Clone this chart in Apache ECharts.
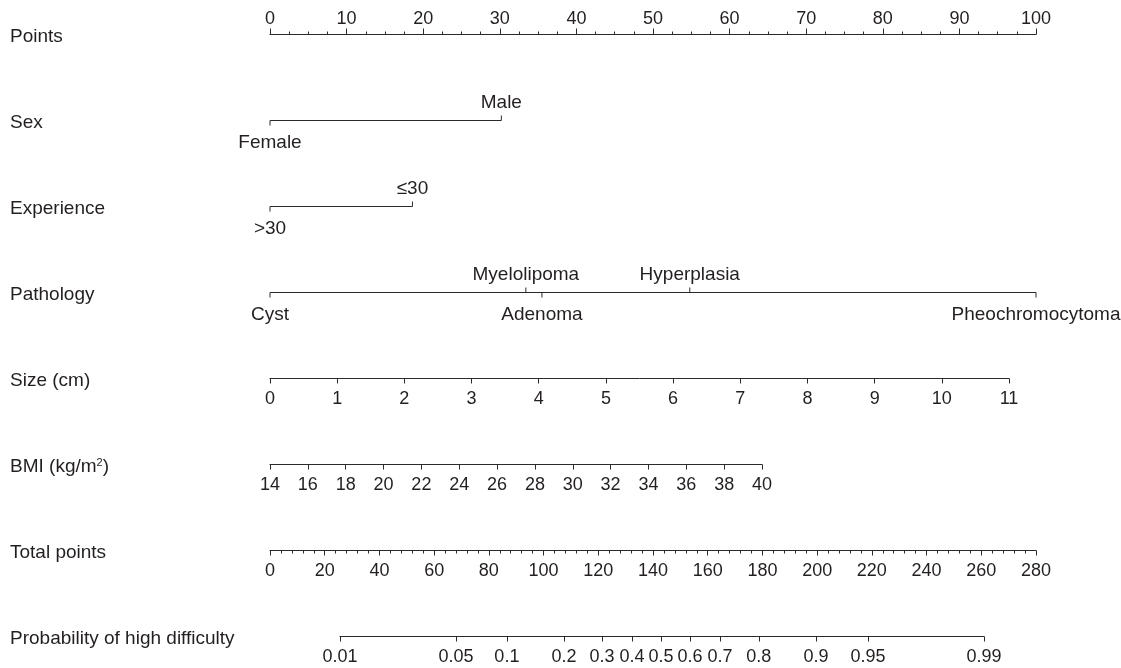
<!DOCTYPE html>
<html>
<head>
<meta charset="utf-8">
<script src="https://cdn.jsdelivr.net/npm/echarts@6/dist/echarts.min.js"></script>
<style>
  html, body { margin: 0; background: #fff; }
  #nomogram { width: 1121px; height: 668px; }
</style>
</head>
<body>
<div id="nomogram"></div>
<script>
// row names, top to bottom
const rowNames = ["Points", "Sex", "Experience", "Pathology", "Size (cm)",
  "BMI (kg/m²)", "Total points", "Probability of high difficulty"];

// categorical predictors: level labels and their points
const sexLevels = ["Female", "Male"];
const sexPoints = [0, 30.2];
const expLevels = [">30", "≤30"];
const expPoints = [0, 18.6];
const pathLevels = ["Cyst", "Myelolipoma", "Adenoma", "Hyperplasia", "Pheochromocytoma"];
const pathPoints = [0, 33.4, 35.5, 54.8, 100];

// continuous scales
const sizeRange = [0, 11];
const bmiRange = [14, 40];
const totalRange = [0, 280];

// probability ticks and where they sit on the total points scale
const probLabels = ["0.01", "0.05", "0.1", "0.2", "0.3", "0.4", "0.5", "0.6", "0.7", "0.8", "0.9", "0.95", "0.99"];
const probTotal = [25.6, 68.0, 86.6, 107.5, 121.4, 132.3, 142.9, 153.5, 164.5, 178.7, 199.6, 218.6, 261.0];

const TEXT = "#231f20";
const LINE = "#2b2b2b";
const FONT = "Liberation Sans";
const FS = 18;     // tick numbers
const FS_TXT = 19; // names and levels

const catRows = [
  { name: "Sex", levels: sexLevels, pts: sexPoints },
  { name: "Experience", levels: expLevels, pts: expPoints },
  { name: "Pathology", levels: pathLevels, pts: pathPoints }
];

const chart = echarts.init(document.getElementById("nomogram"));

function renderCatRow(params, api) {
  const row = catRows[api.value(0)];
  const yi = api.value(1);
  const children = [];
  const p0 = api.coord([Math.min(...row.pts), yi]);
  const p1 = api.coord([Math.max(...row.pts), yi]);
  children.push({
    type: "line",
    shape: { x1: p0[0], y1: p0[1], x2: p1[0], y2: p1[1] },
    style: { stroke: LINE, lineWidth: 1 }
  });
  // labels alternate below / above, ordered by points
  const order = row.pts.map((v, i) => i).sort((a, b) => row.pts[a] - row.pts[b]);
  order.forEach((idx, k) => {
    const up = k % 2 === 1;
    const p = api.coord([row.pts[idx], yi]);
    children.push({
      type: "line",
      shape: { x1: p[0], y1: p[1], x2: p[0], y2: p[1] + (up ? -5 : 5) },
      style: { stroke: LINE, lineWidth: 1 }
    });
    children.push({
      type: "text",
      style: {
        text: row.levels[idx],
        x: p[0],
        y: p[1] + (up ? -18 : 22.5),
        align: "center",
        verticalAlign: "middle",
        fontFamily: FONT,
        fontSize: FS_TXT,
        fill: TEXT
      }
    });
  });
  return { type: "group", children: children };
}

function bottomAxis(gridIndex, min, max, interval, extra) {
  return Object.assign({
    gridIndex: gridIndex,
    type: "value",
    position: "bottom",
    min: min,
    max: max,
    interval: interval,
    axisLine: { show: true, lineStyle: { color: LINE, width: 1 } },
    axisTick: { show: true, inside: false, length: 5, lineStyle: { color: LINE } },
    axisLabel: { show: true, margin: 12, color: TEXT, fontFamily: FONT, fontSize: FS,
      showMinLabel: true, showMaxLabel: true },
    splitLine: { show: false }
  }, extra || {});
}

const hiddenY = i => ({ gridIndex: i, type: "value", show: false });

const option = {
  animation: false,
  backgroundColor: "#fff",
  textStyle: { fontFamily: FONT },
  grid: [
    // main: points scale, one row per category
    { left: 270, width: 766, top: 34.5, height: 602 },
    // size
    { left: 270, width: 739, top: 377.5, height: 1 },
    // bmi
    { left: 270, width: 492, top: 463.5, height: 1 },
    // total points
    { left: 270, width: 766, top: 549.5, height: 1 },
    // probability
    { left: 340, width: 644, top: 635.5, height: 1 }
  ],
  xAxis: [
    {
      gridIndex: 0,
      type: "value",
      position: "top",
      min: 0,
      max: 100,
      interval: 10,
      axisLine: { show: true, lineStyle: { color: LINE, width: 1 } },
      axisTick: { show: true, inside: false, length: 6, lineStyle: { color: LINE } },
      minorTick: { show: true, splitNumber: 4, length: 3, lineStyle: { color: LINE } },
      axisLabel: { margin: 6, color: TEXT, fontFamily: FONT, fontSize: FS,
        showMinLabel: true, showMaxLabel: true },
      splitLine: { show: false }
    },
    bottomAxis(1, sizeRange[0], sizeRange[1], 1),
    bottomAxis(2, bmiRange[0], bmiRange[1], 2),
    bottomAxis(3, totalRange[0], totalRange[1], 20, {
      minorTick: { show: true, splitNumber: 5, length: 3, lineStyle: { color: LINE } }
    }),
    bottomAxis(4, probTotal[0], probTotal[probTotal.length - 1], null, {
      interval: undefined,
      axisTick: { show: true, inside: false, length: 5, lineStyle: { color: LINE },
        customValues: probTotal },
      axisLabel: {
        show: true, margin: 12, color: TEXT, fontFamily: FONT, fontSize: FS,
        customValues: probTotal,
        formatter: function (v) {
          let best = 0;
          probTotal.forEach((p, i) => {
            if (Math.abs(p - v) < Math.abs(probTotal[best] - v)) best = i;
          });
          return probLabels[best];
        }
      }
    })
  ],
  yAxis: [
    {
      gridIndex: 0,
      type: "category",
      data: rowNames,
      inverse: true,
      boundaryGap: false,
      axisLine: { show: false },
      axisTick: { show: false },
      splitLine: { show: false },
      axisLabel: {
        align: "left",
        margin: 260,
        padding: [5, 0, 0, 0],
        color: TEXT,
        fontFamily: FONT,
        fontSize: FS_TXT,
        formatter: v => v.replace("²", "{sup|2}"),
        rich: {
          sup: { fontSize: 11, color: TEXT, fontFamily: FONT, padding: [0, 0, 9, 0] }
        }
      }
    },
    hiddenY(1),
    hiddenY(2),
    hiddenY(3),
    hiddenY(4)
  ],
  series: [
    {
      type: "custom",
      xAxisIndex: 0,
      yAxisIndex: 0,
      renderItem: renderCatRow,
      data: catRows.map((r, i) => [i, rowNames.indexOf(r.name)]),
      silent: true
    }
  ]
};

chart.setOption(option);
</script>
</body>
</html>
